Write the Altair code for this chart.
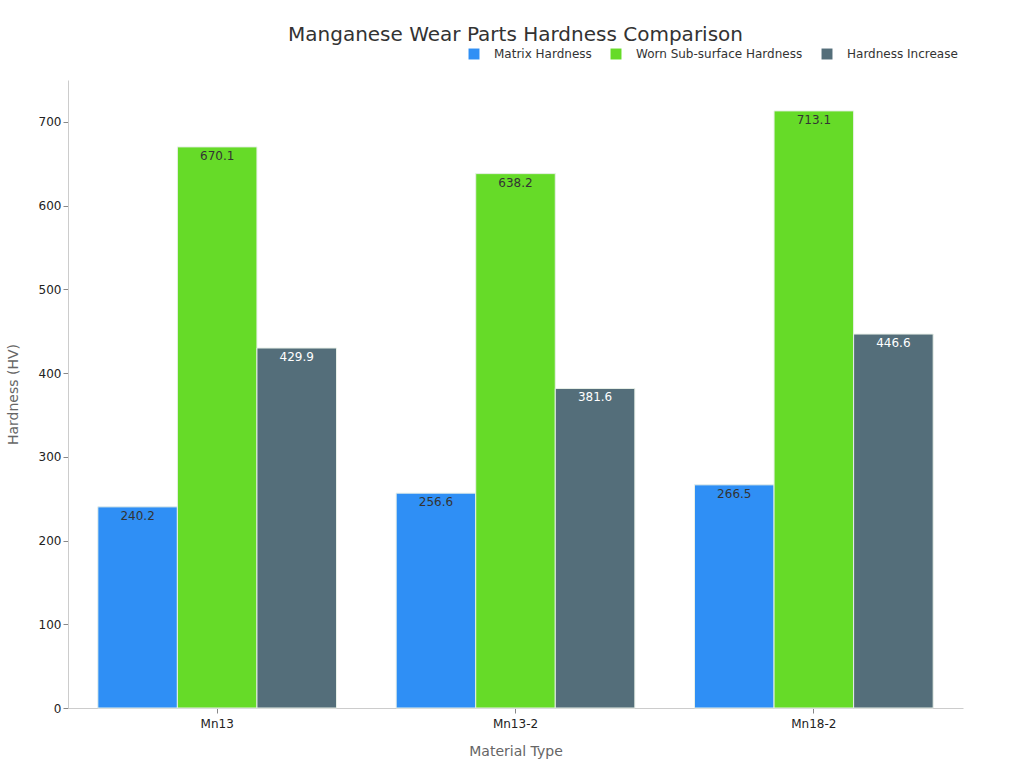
import altair as alt
import pandas as pd

materials = ["Mn13", "Mn13-2", "Mn18-2"]
series = ["Matrix Hardness", "Worn Sub-surface Hardness", "Hardness Increase"]
matrix = [240.2, 256.6, 266.5]
worn = [670.1, 638.2, 713.1]
increase = [429.9, 381.6, 446.6]
colors = ["#2f8ff5", "#66db28", "#546e7a"]
label_colors = ["#333333", "#333333", "#ffffff"]

rows = []
for vals, s, lc in zip([matrix, worn, increase], series, label_colors):
    for m, v in zip(materials, vals):
        rows.append({"Material": m, "Series": s, "Value": v, "Label": f"{v:.1f}", "LabelColor": lc})
df = pd.DataFrame(rows)

x = alt.X("Material:N", sort=materials,
          scale=alt.Scale(paddingInner=0.2, paddingOuter=0.1),
          axis=alt.Axis(title="Material Type", labelAngle=0, titlePadding=15, labelPadding=5))
xo = alt.XOffset("Series:N", sort=series)
y = alt.Y("Value:Q", scale=alt.Scale(domain=[0, 750]),
          axis=alt.Axis(title="Hardness (HV)", values=[0, 100, 200, 300, 400, 500, 600, 700],
                        grid=False, titlePadding=18))

bars = alt.Chart(df).mark_bar(stroke="#e8f0e8", strokeWidth=1).encode(
    x=x, xOffset=xo, y=y,
    color=alt.Color("Series:N", sort=series,
                    scale=alt.Scale(domain=series, range=colors),
                    legend=alt.Legend(title=None, orient="none", direction="horizontal",
                                      legendX=400, legendY=-32, symbolType="square",
                                      symbolSize=120, symbolStrokeWidth=0,
                                      labelFontSize=12, labelColor="#333", labelLimit=300,
                                      columnPadding=18, labelOffset=14)),
)

text = alt.Chart(df).mark_text(baseline="top", dy=4, fontSize=12).encode(
    x=x, xOffset=xo, y=y,
    text="Label:N",
    color=alt.Color("LabelColor:N", scale=None),
)

chart = (bars + text).properties(
    width=895, height=628,
    title=alt.TitleParams("Manganese Wear Parts Hardness Comparison", fontSize=20,
                          font="DejaVu Sans", fontWeight="normal", color="#333", offset=3),
    autosize=alt.AutoSizeParams(type="none"),
    padding={"left": 68, "top": 80, "right": 61, "bottom": 60},
).configure(font="DejaVu Sans").configure_view(stroke=None).configure_axis(
    labelFont="DejaVu Sans", labelFontSize=12, labelColor="#222",
    titleFont="DejaVu Sans", titleFontSize=14, titleColor="#666", titleFontWeight="normal",
    domainColor="#ccc", tickColor="#888", tickSize=5,
).configure_legend(labelFont="DejaVu Sans")

chart.save("out.html", embed_options={"renderer": "svg", "actions": False})
